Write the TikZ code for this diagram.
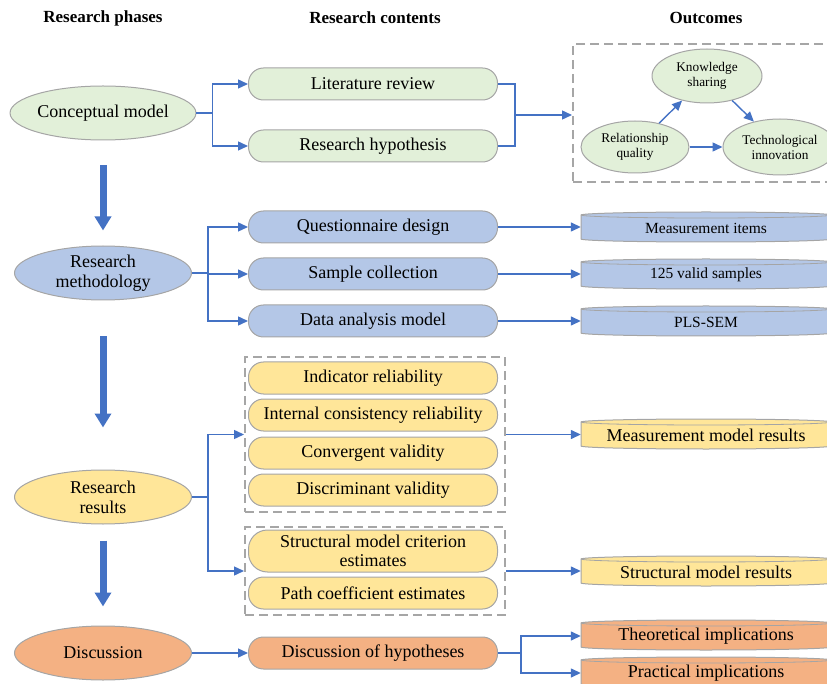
\documentclass[tikz,border=0pt]{standalone}
\usepackage{fontspec}
\setmainfont{Liberation Serif}
\usetikzlibrary{shapes.geometric,arrows.meta,calc}
\definecolor{linkblue}{HTML}{4472C4}
\definecolor{edgegray}{HTML}{A5A5A5}
\definecolor{dashgray}{HTML}{A6A6A6}
\definecolor{greenfill}{HTML}{E2F0D9}
\definecolor{bluefill}{HTML}{B4C7E7}
\definecolor{yellowfill}{HTML}{FFE699}
\definecolor{orangefill}{HTML}{F4B183}
\newcommand{\cylbox}[5]{%
  \path[fill=#3, draw=edgegray, line width=1pt] (581,#2-12) -- (581,#2+12)
    arc[start angle=180, end angle=360, x radius=125pt, y radius=3pt]
    -- (831,#2-12)
    arc[start angle=0, end angle=180, x radius=125pt, y radius=3pt] -- cycle;
  \draw[edgegray, line width=0.8pt] (581,#2-12)
    arc[start angle=180, end angle=360, x radius=125pt, y radius=3pt];
  \node[font=\fontsize{#4}{#4}\selectfont, minimum width=250pt,
    minimum height=24pt, inner sep=0pt] (#1) at (706,#2+1) {#5};
}
\begin{document}
\begin{tikzpicture}[x=1pt, y=-1pt,
    header/.style={font=\bfseries\fontsize{17}{19}\selectfont},
    phase/.style={ellipse, draw=edgegray, line width=1pt, minimum width=177pt,
      minimum height=54pt, inner sep=0pt, align=center,
      font=\fontsize{18}{20}\selectfont},
    task/.style={rectangle, rounded corners=15pt, draw=edgegray, line width=1pt,
      minimum width=249pt, minimum height=32pt, inner sep=0pt, align=center,
      font=\fontsize{18}{19}\selectfont},
    group/.style={draw=dashgray, line width=2pt, dash pattern=on 9pt off 5pt},
    factor/.style={ellipse, draw=edgegray, fill=greenfill, line width=1pt,
      inner sep=0pt, align=center, font=\fontsize{13.3}{15}\selectfont},
    joint/.style={draw=linkblue, line width=1.4pt},
    link/.style={joint, -{Triangle[length=10pt,width=9pt]}},
    bigarrow/.style={draw=linkblue, line width=7pt, -{Triangle[length=14pt,width=16pt]}}]
    \useasboundingbox (0,0) rectangle (827,684);
    \clip (0,0) rectangle (827,684);
    \node[header] (h1) at (103,18) {Research phases};
    \node[header] (h2) at (375,18) {Research contents};
    \node[header] (h3) at (706,18) {Outcomes};
    \node[phase, fill=greenfill] (cm) at (103,113) {Conceptual model};
    \node[phase, fill=bluefill] (rm) at (103,273) {Research\\methodology};
    \node[phase, fill=yellowfill] (rr) at (103,497) {Research\\results};
    \node[phase, fill=orangefill] (disc) at (103,653) {Discussion};
    \draw[bigarrow] ([yshift=-25pt]cm.south) -- ([yshift=15pt]rm.north);
    \draw[bigarrow] ([yshift=-36pt]rm.south) -- ([yshift=42pt]rr.north);
    \draw[bigarrow] ([yshift=-16pt]rr.south) -- ([yshift=19pt]disc.north);
    \node[task, fill=greenfill] (lr) at (373,84) {Literature review};
    \node[task, fill=greenfill] (rh) at (373,146) {Research hypothesis};
    \node[task, fill=bluefill] (qd) at (373,227) {Questionnaire design};
    \node[task, fill=bluefill] (sc) at (373,274) {Sample collection};
    \node[task, fill=bluefill] (dam) at (373,321) {Data analysis model};
    \node[task, fill=yellowfill] (ir) at (373,378) {Indicator reliability};
    \node[task, fill=yellowfill] (icr) at (373,415) {Internal consistency reliability};
    \node[task, fill=yellowfill] (cv) at (373,453) {Convergent validity};
    \node[task, fill=yellowfill] (dv) at (373,490) {Discriminant validity};
    \node[task, fill=yellowfill, minimum height=42pt, rounded corners=19pt] (smc) at (373,551)
      {Structural model criterion\\estimates};
    \node[task, fill=yellowfill] (pce) at (373,593) {Path coefficient estimates};
    \node[task, fill=orangefill] (dh) at (373,653) {Discussion of hypotheses};
    \node[group, minimum width=260pt, minimum height=155pt] (g1) at (375,434.5) {};
    \node[group, minimum width=260pt, minimum height=88pt] (g2) at (375,571) {};
    \node[group, minimum width=266pt, minimum height=138pt] (ob) at (706,113) {};
    \node[factor, minimum width=110pt, minimum height=54pt] (ks) at (707,76) {Knowledge\\sharing};
    \node[factor, minimum width=108pt, minimum height=52pt] (rq) at (635,147) {Relationship\\quality};
    \node[factor, minimum width=114pt, minimum height=56pt] (tin) at (780,147) {Technological\\innovation};
    \cylbox{mi}{227}{bluefill}{15.5}{Measurement items}
    \cylbox{vs}{274}{bluefill}{15.5}{125 valid samples}
    \cylbox{pls}{321}{bluefill}{15.5}{PLS-SEM}
    \cylbox{mmr}{434}{yellowfill}{18}{Measurement model results}
    \cylbox{smr}{571}{yellowfill}{18}{Structural model results}
    \cylbox{tim}{635}{orangefill}{18}{Theoretical implications}
    \cylbox{pim}{672}{orangefill}{18}{Practical implications}
    \draw[link] (cm.east) -- ++(16,0) |- (lr.west);
    \draw[link] (cm.east) -- ++(16,0) |- (rh.west);
    \coordinate (j1) at ($(lr.east)!0.5!(rh.east)+(17,0)$);
    \draw[joint] (lr.east) -| (j1) |- (rh.east);
    \draw[link] (j1) -- (j1 -| ob.west);
    \draw[link] (rq) -- (ks);
    \draw[link] (ks) -- (tin);
    \draw[link] (rq) -- (tin);
    \draw[link] (rm.east) -- ++(16,0) |- (qd.west);
    \draw[link] (rm.east) -- ++(16,0) |- (sc.west);
    \draw[link] (rm.east) -- ++(16,0) |- (dam.west);
    \draw[link] (qd.east) -- (qd.east -| mi.west);
    \draw[link] (sc.east) -- (sc.east -| vs.west);
    \draw[link] (dam.east) -- (dam.east -| pls.west);
    \draw[link] (rr.east) -- ++(16,0) |- (g1.west);
    \draw[link] (rr.east) -- ++(16,0) |- (g2.west);
    \draw[link] (g1.east) -- (g1.east -| mmr.west);
    \draw[link] (g2.east) -- (g2.east -| smr.west);
    \draw[link] (disc.east) -- (dh.west);
    \draw[link] (dh.east) -- ++(23,0) |- (tim.west);
    \draw[link] (dh.east) -- ++(23,0) |- (pim.west);
\end{tikzpicture}
\end{document}
